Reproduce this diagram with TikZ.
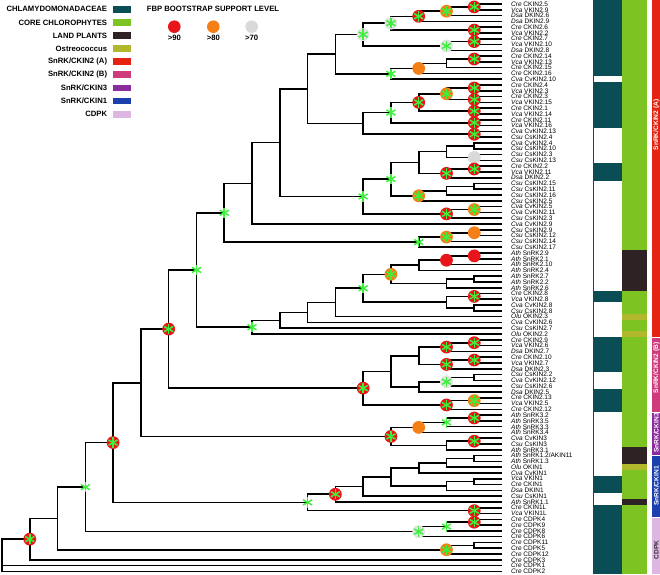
\documentclass[tikz,border=0pt]{standalone}
\usepackage{fontspec}
\setmainfont{Liberation Sans}
\usetikzlibrary{calc}
\definecolor{teal1}{HTML}{0B4D55}
\definecolor{chl}{HTML}{7DC422}
\definecolor{land}{HTML}{2E2224}
\definecolor{ost}{HTML}{B2B82E}
\definecolor{ckA}{HTML}{E42313}
\definecolor{ckB}{HTML}{CF3B7A}
\definecolor{ck3}{HTML}{8B2C9E}
\definecolor{ck1}{HTML}{1C3FAE}
\definecolor{cdpk}{HTML}{DDB6E2}
\definecolor{nred}{HTML}{E8161B}
\definecolor{nora}{HTML}{F57F17}
\definecolor{ngry}{HTML}{D9D9D9}
\definecolor{ngrn}{HTML}{3CF03C}
\definecolor{nlg}{HTML}{E2E2E2}
\tikzset{
 br/.style={line width=1.6pt, black},
 lab/.style={anchor=west, inner sep=0pt, font=\fontsize{6.5}{6.5}\selectfont},
 leg/.style={font=\fontsize{7.7}{8}\selectfont\bfseries, inner sep=0pt},
 bartxt/.style={rotate=90, inner sep=0pt, font=\fontsize{6.6}{6.6}\selectfont\bfseries},
 astr/.pic={\foreach \a in {90,30,150}{\draw[ngrn, line width=1.5pt] (\a:5.2pt) -- (\a+180:5.2pt);}},
}
\newcommand{\inode}[4]{\path let \p1=(#3), \p2=(#4) in coordinate (#1) at ({(2+27.78*#2)*1pt},{0.5*\y1+0.5*\y2});
 \draw[br] (#1) |- (#3); \draw[br] (#1) |- (#4);}
\newcommand{\dsk}[2]{\fill[#2] (#1) circle[radius=6.4pt];}
\newcommand{\mRA}[1]{\dsk{#1}{nred}\pic at (#1) {astr};}
\newcommand{\mOA}[1]{\dsk{#1}{nora}\pic at (#1) {astr};}
\newcommand{\mLA}[1]{\dsk{#1}{nlg}\pic at (#1) {astr};}
\newcommand{\mG}[1]{\pic at (#1) {astr};}
\newcommand{\mO}[1]{\dsk{#1}{nora}}
\newcommand{\mR}[1]{\dsk{#1}{nred}}
\newcommand{\mY}[1]{\dsk{#1}{ngry}}
\newcommand{\bb}[1]{{1.105+#1*5.79}}
\newcommand{\legrow}[4]{\node[leg, anchor=east] (#1) at (107.3,#2) {#3};
 \fill[#4] (112.7,#2-3.4) rectangle (130.7,#2+3.4);}
\begin{document}
\begin{tikzpicture}[x=1pt,y=-1pt]
\useasboundingbox (0,0) rectangle (660,574);
% legend
\legrow{lg1}{9.3}{CHLAMYDOMONADACEAE}{teal1}
\legrow{lg2}{22.4}{CORE CHLOROPHYTES}{chl}
\legrow{lg3}{35.5}{LAND PLANTS}{land}
\legrow{lg4}{48.6}{Ostreococcus}{ost}
\legrow{lg5}{61.7}{SnRK/CKIN2 (A)}{ckA}
\legrow{lg6}{74.8}{SnRK/CKIN2 (B)}{ckB}
\legrow{lg7}{87.9}{SnRK/CKIN3}{ck3}
\legrow{lg8}{101.0}{SnRK/CKIN1}{ck1}
\legrow{lg9}{114.1}{CDPK}{cdpk}
\node[leg, anchor=west] (ttl) at (146.7,9.3) {FBP BOOTSTRAP SUPPORT LEVEL};
\node[circle, fill=nred, inner sep=0pt, minimum size=12.6pt] (s90) at (174.3,26.7) {};
\node[circle, fill=nora, inner sep=0pt, minimum size=12.6pt] (s80) at (213.3,26.7) {};
\node[circle, fill=ngry, inner sep=0pt, minimum size=12.6pt] (s70) at (251.7,26.7) {};
\node[leg] (t90) at (174.3,38.3) {>90};
\node[leg] (t80) at (213.3,38.3) {>80};
\node[leg] (t70) at (251.7,38.3) {>70};
% leaves
\foreach \i/\sp/\g in {1/Cre/CKIN2.5,2/Vca/VKIN2.9,3/Dsa/DKIN2.6,4/Dsa/DKIN2.9,5/Cre/CKIN2.6,6/Vca/VKIN2.2,7/Cre/CKIN2.7,8/Vca/VKIN2.10,9/Dsa/DKIN2.8,10/Cre/CKIN2.14,11/Vca/VKIN2.13,12/Cre/CKIN2.15,13/Cre/CKIN2.16,14/Cva/CvKIN2.10,15/Cre/CKIN2.4,16/Vca/VKIN2.3,17/Cre/CKIN2.3,18/Vca/VKIN2.15,19/Cre/CKIN2.1,20/Vca/VKIN2.14,21/Cre/CKIN2.11,22/Vca/VKIN2.16,23/Cva/CvKIN2.13,24/Csu/CsKIN2.4,25/Cva/CvKIN2.4,26/Csu/CsKIN2.10,27/Csu/CsKIN2.3,28/Csu/CsKIN2.13,29/Cre/CKIN2.2,30/Vca/VKIN2.11,31/Dsa/DKIN2.2,32/Csu/CsKIN2.15,33/Csu/CsKIN2.11,34/Csu/CsKIN2.16,35/Csu/CsKIN2.5,36/Cva/CvKIN2.5,37/Cva/CvKIN2.11,38/Csu/CsKIN2.3,39/Cva/CvKIN2.9,40/Csu/CsKIN2.9,41/Csu/CsKIN2.12,42/Csu/CsKIN2.14,43/Csu/CsKIN2.17,44/Ath/SnRK2.9,45/Ath/SnRK2.1,46/Ath/SnRK2.10,47/Ath/SnRK2.4,48/Ath/SnRK2.7,49/Ath/SnRK2.2,50/Ath/SnRK2.6,51/Cre/CKIN2.8,52/Vca/VKIN2.8,53/Cva/CvKIN2.8,54/Csu/CsKIN2.8,55/Olu/OKIN2.3,56/Cva/CvKIN2.6,57/Csu/CsKIN2.7,58/Olu/OKIN2.2,59/Cre/CKIN2.9,60/Vca/VKIN2.6,61/Dsa/DKIN2.7,62/Cre/CKIN2.10,63/Vca/VKIN2.7,64/Dsa/DKIN2.3,65/Csu/CsKIN2.2,66/Cva/CvKIN2.12,67/Csu/CsKIN2.6,68/Dsa/DKIN2.5,69/Cre/CKIN2.13,70/Vca/VKIN2.5,71/Cre/CKIN2.12,72/Ath/SnRK3.2,73/Ath/SnRK3.5,74/Ath/SnRK3.3,75/Ath/SnRK3.4,76/Cva/CvKIN3,77/Csu/CsKIN3,78/Ath/SnRK3.1,79/Ath/{SnRK1.2/AKIN11},80/Ath/SnRK1.3,81/Olu/OKIN1,82/Cva/CvKIN1,83/Vca/VKIN1,84/Cre/CKIN1,85/Dsa/DKIN1,86/Csu/CsKIN1,87/Ath/SnRK1.1,88/Cre/CKIN1L,89/Vca/VKIN1L,90/Cre/CDPK4,91/Cre/CDPK9,92/Cre/CDPK8,93/Cre/CDPK6,94/Cre/CDPK11,95/Cre/CDPK5,96/Cre/CDPK12,97/Cre/CDPK3,98/Cre/CDPK1,99/Cre/CDPK2}{
 \coordinate (L\i) at (502,{4+(\i-1)*5.79});
 \node[lab] (T\i) at (511,{4+(\i-1)*5.79}) {\textit{\sp} \g};
}
% tree
\inode{a1}{17}{L1}{L2}
\inode{a2}{16}{a1}{L3}
\inode{a3}{15}{a2}{L4}
\inode{a4}{17}{L5}{L6}
\inode{a5}{14}{a3}{a4}
\inode{a6}{17}{L7}{L8}
\inode{a7}{16}{a6}{L9}
\inode{a8}{13}{a5}{a7}
\inode{a9}{17}{L10}{L11}
\inode{a10}{16}{a9}{L12}
\inode{a11}{15}{a10}{L13}
\inode{a12}{14}{a11}{L14}
\inode{a13}{12}{a8}{a12}
\inode{a14}{17}{L15}{L16}
\inode{a15}{17}{L17}{L18}
\inode{a16}{16}{a14}{a15}
\inode{a17}{17}{L19}{L20}
\inode{a18}{15}{a16}{a17}
\inode{a19}{17}{L21}{L22}
\inode{a20}{14}{a18}{a19}
\inode{a21}{17}{L23}{L24}
\inode{a22}{13}{a20}{a21}
\inode{a23}{11}{a13}{a22}
\inode{b1}{17}{L25}{L26}
\inode{b2}{17}{L27}{L28}
\inode{b3}{16}{b1}{b2}
\inode{b4}{17}{L29}{L30}
\inode{b5}{16}{b4}{L31}
\inode{b6}{15}{b3}{b5}
\inode{b7}{17}{L32}{L33}
\inode{b8}{16}{b7}{L34}
\inode{b9}{15}{b8}{L35}
\inode{b10}{14}{b6}{b9}
\inode{b11}{17}{L36}{L37}
\inode{b12}{16}{b11}{L38}
\inode{b13}{13}{b10}{b12}
\inode{b14}{10}{a23}{b13}
\inode{b15}{9}{b14}{L39}
\inode{c1}{17}{L40}{L41}
\inode{c2}{16}{c1}{L42}
\inode{c3}{15}{c2}{L43}
\inode{c4}{8}{b15}{c3}
\inode{d1}{17}{L44}{L45}
\inode{d2}{16}{d1}{L46}
\inode{d3}{15}{d2}{L47}
\inode{d4}{17}{L48}{L49}
\inode{d5}{16}{d4}{L50}
\inode{d6}{14}{d3}{d5}
\inode{d7}{17}{L51}{L52}
\inode{d8}{17}{L53}{L54}
\inode{d9}{16}{d7}{d8}
\inode{d10}{13}{d6}{d9}
\inode{d11}{12}{d10}{L55}
\inode{d12}{11}{d11}{L56}
\inode{d13}{10}{d12}{L57}
\inode{d14}{9}{d13}{L58}
\inode{d15}{7}{c4}{d14}
\inode{e1}{17}{L59}{L60}
\inode{e2}{16}{e1}{L61}
\inode{e3}{17}{L62}{L63}
\inode{e4}{16}{e3}{L64}
\inode{e5}{15}{e2}{e4}
\inode{e6}{17}{L65}{L66}
\inode{e7}{16}{e6}{L67}
\inode{e8}{15}{e7}{L68}
\inode{e9}{14}{e5}{e8}
\inode{e10}{17}{L69}{L70}
\inode{e11}{16}{e10}{L71}
\inode{e12}{13}{e9}{e11}
\inode{e13}{6}{d15}{e12}
\inode{f1}{17}{L72}{L73}
\inode{f2}{16}{f1}{L74}
\inode{f3}{15}{f2}{L75}
\inode{f4}{17}{L76}{L77}
\inode{f5}{16}{f4}{L78}
\inode{f6}{14}{f3}{f5}
\inode{f7}{5}{e13}{f6}
\inode{g1}{17}{L79}{L80}
\inode{g2}{16}{g1}{L81}
\inode{g3}{15}{g2}{L82}
\inode{g4}{17}{L83}{L84}
\inode{g5}{16}{g4}{L85}
\inode{g6}{14}{g3}{g5}
\inode{g7}{13}{g6}{L86}
\inode{g8}{12}{g7}{L87}
\inode{g9}{17}{L88}{L89}
\inode{g10}{11}{g8}{g9}
\inode{g11}{4}{f7}{g10}
\inode{h1}{17}{L90}{L91}
\inode{h2}{16}{h1}{L92}
\inode{h3}{15}{h2}{L93}
\inode{h4}{3}{g11}{h3}
\inode{h5}{17}{L94}{L95}
\inode{h6}{16}{h5}{L96}
\inode{h7}{2}{h4}{h6}
\inode{h8}{1}{h7}{L97}
\coordinate (root) at (2,555);
\draw[br] (root) |- (h8); \draw[br] (root) |- (L98); \draw[br] (root) |- (L99);
% markers
\mRA{a1}\mOA{a2}\mRA{a3}\mRA{a4}\mLA{a5}\mRA{a6}\mLA{a7}\mLA{a8}\mRA{a9}\mO{a11}\mG{a12}
\mRA{a14}\mRA{a15}\mOA{a16}\mRA{a17}\mRA{a18}\mRA{a19}\mG{a20}\mRA{a21}
\mY{b2}\mRA{b4}\mRA{b5}\mOA{b9}\mG{b10}\mOA{b11}\mRA{b12}\mG{b13}
\mO{c1}\mOA{c2}\mG{c3}\mG{c4}
\mR{d1}\mR{d2}\mOA{d6}\mRA{d7}\mG{d10}\mG{d14}\mG{d15}
\mRA{e1}\mRA{e2}\mRA{e3}\mRA{e4}\mLA{e7}\mOA{e10}\mRA{e11}\mRA{e12}\mRA{e13}
\mRA{f1}\mG{f2}\mO{f3}\mRA{f4}\mRA{f6}
\mRA{g8}\mRA{g9}\mG{g10}\mRA{g11}
\mRA{h1}\mG{h2}\mLA{h3}\mG{h4}\mOA{h6}\mRA{h8}
% colour bars
\fill[teal1] (593,0) rectangle (622,574);
\foreach \u/\v in {13/14,22/28,31/50,52/58,64/67,71/82,85/87}{
 \fill[white] (593,\bb{\u}) rectangle (622,\bb{\v});}
\draw[teal1, line width=0.6pt] (593,0.3) rectangle (622,573.7);
\fill[chl] (622,0) rectangle (647,574);
\fill[land] (622,\bb{43}) rectangle (647,\bb{50});
\fill[ost] (622,\bb{54}) rectangle (647,\bb{55});
\fill[ost] (622,\bb{57}) rectangle (647,\bb{58});
\fill[land] (622,\bb{77}) rectangle (647,\bb{80});
\fill[ost] (622,\bb{80}) rectangle (647,\bb{81});
\fill[land] (622,\bb{86}) rectangle (647,\bb{87});
\fill[ckA] (652,0) rectangle (660,336.5);
\fill[ckB] (652,337.5) rectangle (660,412);
\fill[ck3] (652,413) rectangle (660,455);
\fill[ck1] (652,456) rectangle (660,516.5);
\fill[cdpk] (652,517.5) rectangle (660,574);
\node[bartxt, text=white] (bA) at (656.4,125) {SnRK/CKIN2 (A)};
\node[bartxt, text=white] (bB) at (656.4,368) {SnRK/CKIN2 (B)};
\node[bartxt, text=white] (b3) at (656.4,433) {SnRK/CKIN3};
\node[bartxt, text=white] (b1) at (656.4,486) {SnRK/CKIN1};
\node[bartxt, text=black!80] (bC) at (656.4,550) {CDPK};
\end{tikzpicture}
\end{document}
